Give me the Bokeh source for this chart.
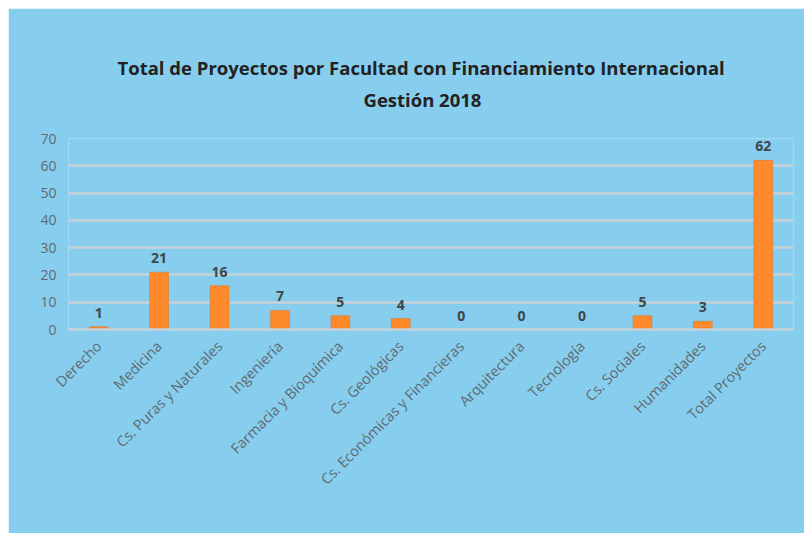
from bokeh.plotting import figure
from bokeh.models import ColumnDataSource, LabelSet, Range1d, FixedTicker, Title
from bokeh.core.properties import value
from bokeh.embed import file_html
from bokeh.resources import INLINE
import math

categories = ["Derecho", "Medicina", "Cs. Puras y Naturales", "Ingeniería",
              "Farmacia y Bioquímica", "Cs. Geológicas", "Cs. Económicas y Financieras",
              "Arquitectura", "Tecnología", "Cs. Sociales", "Humanidades", "Total Proyectos"]
values = [1, 21, 16, 7, 5, 4, 0, 0, 0, 5, 3, 62]
y_ticks = [0, 10, 20, 30, 40, 50, 60, 70]
title_line1 = "Total de Proyectos por Facultad con Financiamiento Internacional"
title_line2 = "Gestión 2018"

BG = "#87CEEE"
FONT = "Open Sans"

src = ColumnDataSource(dict(cat=categories, val=values, lab=[str(v) for v in values]))

p = figure(x_range=categories, y_range=Range1d(0, 70), width=796, height=525,
           output_backend="svg", toolbar_location=None, title=None,
           min_border_left=60, min_border_right=11, min_border_top=130, min_border_bottom=204)
p.margin = (8, 0, 0, 8)
p.background_fill_color = BG
p.border_fill_color = BG
p.outline_line_color = None

for txt, so, off in [(title_line2, 53, 295), (title_line1, -43, 49)]:
    p.add_layout(Title(text=txt, align="left", offset=off, text_font=FONT,
                       text_font_size="18.5px", text_font_style="bold",
                       text_color="#222222", standoff=so), "above")

p.vbar(x="cat", top="val", width=0.31, source=src, fill_color="#FF8A2C",
       line_color="#D9782E", line_alpha=0.6, line_width=1)

labels = LabelSet(x="cat", y="val", text="lab", source=src, y_offset=9,
                  text_align="center", text_baseline="bottom",
                  text_font=value(FONT), text_font_style="bold", text_font_size="14px",
                  text_color="#404548")
p.add_layout(labels)

# grid
p.xgrid.grid_line_color = None
p.ygrid.grid_line_color = "#C6D2D8"
p.ygrid.grid_line_width = 2.5
p.ygrid.ticker = FixedTicker(ticks=y_ticks)

# y axis
p.yaxis.ticker = FixedTicker(ticks=y_ticks)
p.yaxis.axis_line_color = None
p.yaxis.major_tick_line_color = None
p.yaxis.minor_tick_line_color = None
p.yaxis.major_label_text_font = FONT
p.yaxis.major_label_text_font_size = "14px"
p.yaxis.major_label_text_color = "#5E6A70"
p.yaxis.major_label_standoff = 6

# x axis
p.xaxis.axis_line_color = "#C6D2D8"
p.xaxis.axis_line_width = 2.5
p.xaxis.major_tick_line_color = None
p.xaxis.minor_tick_line_color = None
p.xaxis.major_label_orientation = math.pi / 4
p.xaxis.major_label_text_font = FONT
p.xaxis.major_label_text_font_size = "14.5px"
p.xaxis.major_label_text_color = "#5E6A70"
p.xaxis.major_label_standoff = 8

open("out.html", "w").write(file_html(p, INLINE))
